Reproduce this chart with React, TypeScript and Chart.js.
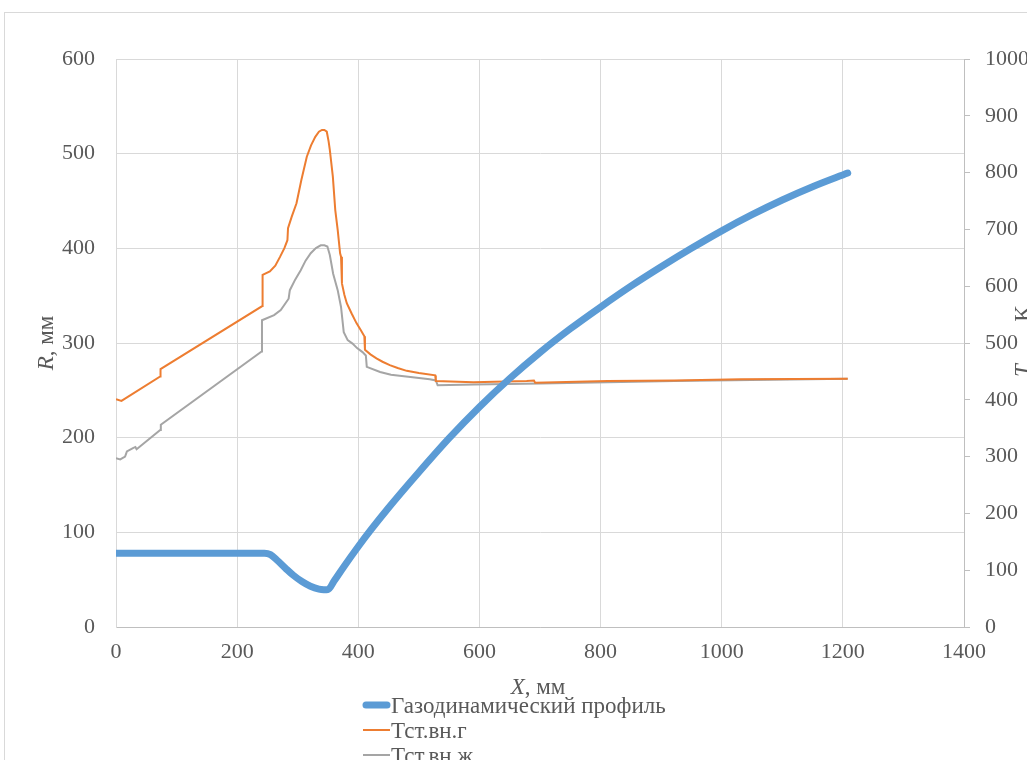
import React, { useEffect, useRef } from 'react';
import { Chart, registerables } from 'chart.js';

Chart.register(...registerables);

// Gas-dynamic profile: X (mm) vs R (mm)
const profileX = [0, 245, 255, 266, 280, 293, 307, 321, 335, 343, 350, 360, 375, 400, 420, 450, 500, 550, 600, 650, 700, 750, 800, 850, 900, 950, 1000, 1050, 1100, 1150, 1208];
const profileR = [78, 78, 76.5, 70.5, 62, 54.5, 48, 43, 40, 39.4, 39.6, 48.5, 62.6, 85, 102, 126, 163.5, 199.5, 232.5, 262.5, 290, 315, 338, 360, 380.5, 400, 418.5, 435.5, 451, 465, 479.5];

// Wall temperature, gas side: X (mm) vs T (K)
const gasX = [0, 9, 73, 73.5, 241.5, 242, 254, 263, 271, 278, 283, 284, 290, 298, 306, 315, 322, 329, 335, 340, 344, 348, 351, 353, 358, 362, 366, 370, 371.5, 373, 377, 381, 389, 397, 404, 410, 411, 420, 430, 440, 452, 465, 480, 500, 527, 528, 590, 678, 690, 692, 812, 922, 1032, 1208];
const gasT = [401, 398, 441, 454, 565, 620, 626, 636, 652, 667, 681, 702, 722, 746, 787, 828, 848, 863, 872, 875, 875, 872, 855, 840, 793, 734, 699, 658, 652, 605, 585, 570, 552, 535, 523, 512, 488, 480, 473, 467, 461, 456, 451, 447, 443, 433, 431, 433, 434, 430, 433, 434, 436, 437];

// Wall temperature, liquid side: X (mm) vs T (K)
const liqX = [0, 7, 15, 18, 28, 32, 34, 73, 74, 240.5, 241, 261, 272, 285, 287, 296, 305, 313, 321.5, 330, 338, 344, 349, 353, 358.5, 366, 371.5, 376, 382.5, 390.5, 398, 407, 412.5, 414, 436, 454, 518, 528, 531, 592, 702, 922, 1208];
const liqT = [297, 295, 300, 309, 315, 317, 313, 347, 356, 485, 540, 549, 558, 578, 593, 612, 628, 645, 658, 667, 672, 672, 670, 655, 622, 593, 563.5, 519, 505, 499, 491, 484, 478, 458, 449, 444, 436, 434, 425.5, 427, 428.5, 433, 437];

const seriesNames = ['Газодинамический профиль', 'Тст.вн.г', 'Тст.вн.ж'];
const seriesColors = ['#5B9BD5', '#ED7D31', '#A5A5A5'];
const seriesWidths = [7, 2, 2];

const FONT_FAMILY = '"Liberation Serif", "Times New Roman", serif';
const TICK_SIZE = 22;
const TITLE_SIZE = 23;
const TEXT_COLOR = '#595959';
const GRID_COLOR = '#d9d9d9';

const toPoints = (xs: number[], ys: number[]) => xs.map((x, i) => ({ x, y: ys[i] }));

type Part = { t: string; italic?: boolean; sub?: boolean };

function partFont(p: Part) {
  const size = p.sub ? Math.round(TITLE_SIZE * 0.65) : TITLE_SIZE;
  return `${p.italic ? 'italic ' : ''}${size}px ${FONT_FAMILY}`;
}

function measureParts(ctx: CanvasRenderingContext2D, parts: Part[]) {
  return parts.map(p => {
    ctx.font = partFont(p);
    return ctx.measureText(p.t).width;
  });
}

function drawParts(ctx: CanvasRenderingContext2D, parts: Part[], x0: number, y: number) {
  const widths = measureParts(ctx, parts);
  let x = x0;
  ctx.textAlign = 'left';
  ctx.textBaseline = 'alphabetic';
  parts.forEach((p, i) => {
    ctx.font = partFont(p);
    ctx.fillText(p.t, x, y + (p.sub ? 7 : 0));
    x += widths[i];
  });
}

function drawCentered(ctx: CanvasRenderingContext2D, parts: Part[], cx: number, cy: number) {
  const total = measureParts(ctx, parts).reduce((a, b) => a + b, 0);
  drawParts(ctx, parts, cx - total / 2, cy + TITLE_SIZE * 0.33);
}

const annotationsPlugin = {
  id: 'annotations',
  afterDraw(chart: any) {
    const ctx: CanvasRenderingContext2D = chart.ctx;
    const area = chart.chartArea;
    const midY = (area.top + area.bottom) / 2;
    ctx.save();
    ctx.fillStyle = TEXT_COLOR;

    // X axis title
    drawCentered(ctx, [{ t: 'X', italic: true }, { t: ', мм' }], (area.left + area.right) / 2 - 2, area.bottom + 59);

    // Left axis title
    ctx.save();
    ctx.translate(area.left - 71, midY);
    ctx.rotate(-Math.PI / 2);
    drawCentered(ctx, [{ t: 'R', italic: true }, { t: ', мм' }], 0, 0);
    ctx.restore();

    // Right axis title (partly outside the picture, as in the source)
    ctx.save();
    ctx.translate(area.right + 66, midY + 34);
    ctx.rotate(-Math.PI / 2);
    drawParts(ctx, [{ t: 'T', italic: true }, { t: 'ст.вн', sub: true }, { t: ', K' }], 0, 0);
    ctx.restore();

    // Legend (vertical list under the chart)
    const lx0 = area.left + 247;
    const lx1 = area.left + 274;
    const ly0 = area.bottom + 78;
    const step = 25;
    chart.data.datasets.forEach((ds: any, i: number) => {
      const y = ly0 + i * step;
      ctx.beginPath();
      ctx.strokeStyle = ds.borderColor;
      ctx.lineWidth = ds.borderWidth;
      ctx.lineCap = i === 0 ? 'round' : 'butt';
      ctx.moveTo(lx0 + (i === 0 ? 3 : 0), y);
      ctx.lineTo(lx1 - (i === 0 ? 3 : 0), y);
      ctx.stroke();
      ctx.fillStyle = TEXT_COLOR;
      ctx.font = `${TITLE_SIZE}px ${FONT_FAMILY}`;
      ctx.textAlign = 'left';
      ctx.textBaseline = 'middle';
      ctx.fillText(ds.label, lx1 + 1, y + 2);
    });
    ctx.restore();
  },
};

export default function App() {
  const canvasRef = useRef<HTMLCanvasElement | null>(null);

  useEffect(() => {
    if (!canvasRef.current) return;
    const font = { family: FONT_FAMILY, size: TICK_SIZE };
    const plain = (v: any) => String(v);
    const chart = new Chart(canvasRef.current, {
      type: 'line',
      data: {
        datasets: [
          {
            label: seriesNames[0],
            data: toPoints(profileX, profileR),
            borderColor: seriesColors[0],
            borderWidth: seriesWidths[0],
            pointRadius: 0,
            cubicInterpolationMode: 'monotone',
            borderCapStyle: 'round',
            yAxisID: 'y',
            order: 0,
          },
          {
            label: seriesNames[1],
            data: toPoints(gasX, gasT),
            borderColor: seriesColors[1],
            borderWidth: seriesWidths[1],
            pointRadius: 0,
            tension: 0,
            yAxisID: 'y1',
            order: 1,
          },
          {
            label: seriesNames[2],
            data: toPoints(liqX, liqT),
            borderColor: seriesColors[2],
            borderWidth: seriesWidths[2],
            pointRadius: 0,
            tension: 0,
            yAxisID: 'y1',
            order: 2,
          },
        ],
      } as any,
      options: {
        animation: false,
        responsive: false,
        layout: { padding: { top: 59, left: 0, right: 0, bottom: 0 } },
        plugins: { legend: { display: false }, tooltip: { enabled: false } },
        scales: {
          x: {
            type: 'linear',
            min: 0,
            max: 1400,
            ticks: { stepSize: 200, color: TEXT_COLOR, font, padding: 12, callback: plain },
            grid: { color: GRID_COLOR, drawTicks: false },
            border: { color: '#bfbfbf' },
            afterFit: (s: any) => { s.height = 133; },
          },
          y: {
            type: 'linear',
            position: 'left',
            min: 0,
            max: 600,
            ticks: { stepSize: 100, color: TEXT_COLOR, font, padding: 21, callback: plain },
            grid: { color: GRID_COLOR, drawTicks: false },
            border: { color: GRID_COLOR },
            afterFit: (s: any) => { s.width = 116; },
          },
          y1: {
            type: 'linear',
            position: 'right',
            min: 0,
            max: 1000,
            ticks: { stepSize: 100, color: TEXT_COLOR, font, padding: 15, callback: plain },
            grid: { drawOnChartArea: false, color: '#bfbfbf', tickLength: 6 },
            border: { color: '#bfbfbf' },
            afterFit: (s: any) => { s.width = 63; },
          },
        },
      } as any,
      plugins: [annotationsPlugin],
    });
    return () => chart.destroy();
  }, []);

  return (
    <div style={{ position: 'fixed', left: 0, top: 0, width: 1027, height: 760, overflow: 'hidden', background: '#fff' }}>
      <div style={{ position: 'absolute', left: 4, top: 12, width: 1200, height: 900, border: '1px solid #d9d9d9' }} />
      <canvas ref={canvasRef} width={1027} height={760} style={{ position: 'absolute', left: 0, top: 0, width: 1027, height: 760 }} />
    </div>
  );
}
